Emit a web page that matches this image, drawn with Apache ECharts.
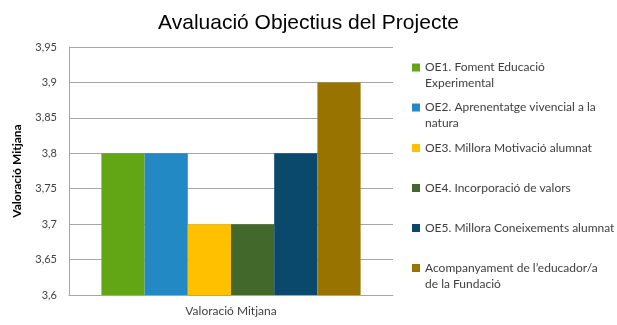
<!DOCTYPE html>
<html>
<head>
<meta charset="utf-8">
<script src="https://cdn.jsdelivr.net/npm/echarts@6/dist/echarts.min.js"></script>
<style>html,body{margin:0;padding:0;background:#fff}#c{width:617px;height:325px}</style>
</head>
<body>
<div id="c"></div>
<script>
const titleText = 'Avaluació Objectius del Projecte';
const categories = ['Valoració Mitjana'];
const seriesNames = [
  'OE1. Foment Educació\nExperimental',
  'OE2. Aprenentatge vivencial a la\nnatura',
  'OE3. Millora Motivació alumnat',
  'OE4. Incorporació de valors',
  'OE5. Millora Coneixements alumnat',
  'Acompanyament de l\u2019educador/a\nde la Fundació'
];
const seriesValues = [3.8, 3.8, 3.7, 3.7, 3.8, 3.9];
const seriesColors = ['#62A515', '#2389C5', '#FFC000', '#43682B', '#0A486C', '#997300'];
const yMin = 3.6, yMax = 3.95, yStep = 0.05;
const yAxisTitle = 'Valoració Mitjana';

const font = 'Lato, "Open Sans", sans-serif';
const legendTops = [59.5, 99.5, 140, 180, 220, 260];

const legends = seriesNames.map((n, i) => {
  const twoLine = n.indexOf('\n') >= 0;
  return {
    data: [n],
    orient: 'vertical',
    left: 412,
    top: legendTops[i],
    padding: 0,
    itemWidth: 8,
    itemHeight: twoLine ? 32 : 8,
    icon: twoLine ? 'path://M0,0M0,32M0,4L8,4L8,12L0,12Z' : 'rect',
    selectedMode: false,
    textStyle: { fontFamily: font, fontSize: 12, color: '#404040', lineHeight: 16 }
  };
});

const chart = echarts.init(document.getElementById('c'));
chart.setOption({
  animation: false,
  backgroundColor: '#fff',
  title: {
    text: titleText, left: 'center', top: 8,
    textStyle: { fontFamily: '"Liberation Sans", Arial, sans-serif', fontSize: 21, fontWeight: 'normal', color: '#000' }
  },
  legend: legends,
  grid: { left: 69, right: 224, top: 47, bottom: 30, containLabel: false },
  xAxis: {
    type: 'category', data: categories,
    axisLine: { lineStyle: { color: '#A6A6A6', width: 1 } },
    axisTick: { show: false },
    axisLabel: { fontFamily: font, fontSize: 12, color: '#404040', margin: 10 }
  },
  yAxis: {
    type: 'value', min: yMin, max: yMax, interval: yStep,
    name: yAxisTitle, nameLocation: 'middle', nameGap: 46, nameRotate: 90,
    nameTextStyle: { fontFamily: font, fontSize: 12, fontWeight: 'bold', color: '#000' },
    axisLine: { show: true, lineStyle: { color: '#A6A6A6', width: 1 } },
    axisTick: { show: false },
    splitLine: { lineStyle: { color: '#A6A6A6', width: 1 } },
    axisLabel: {
      fontFamily: font, fontSize: 11, color: '#404040', margin: 12,
      formatter: v => String(+v.toFixed(2)).replace('.', ',')
    }
  },
  series: seriesNames.map((n, i) => ({
    type: 'bar', name: n, data: [seriesValues[i]],
    barGap: 0, barCategoryGap: '20%',
    itemStyle: { color: seriesColors[i] }
  }))
});
</script>
</body>
</html>
